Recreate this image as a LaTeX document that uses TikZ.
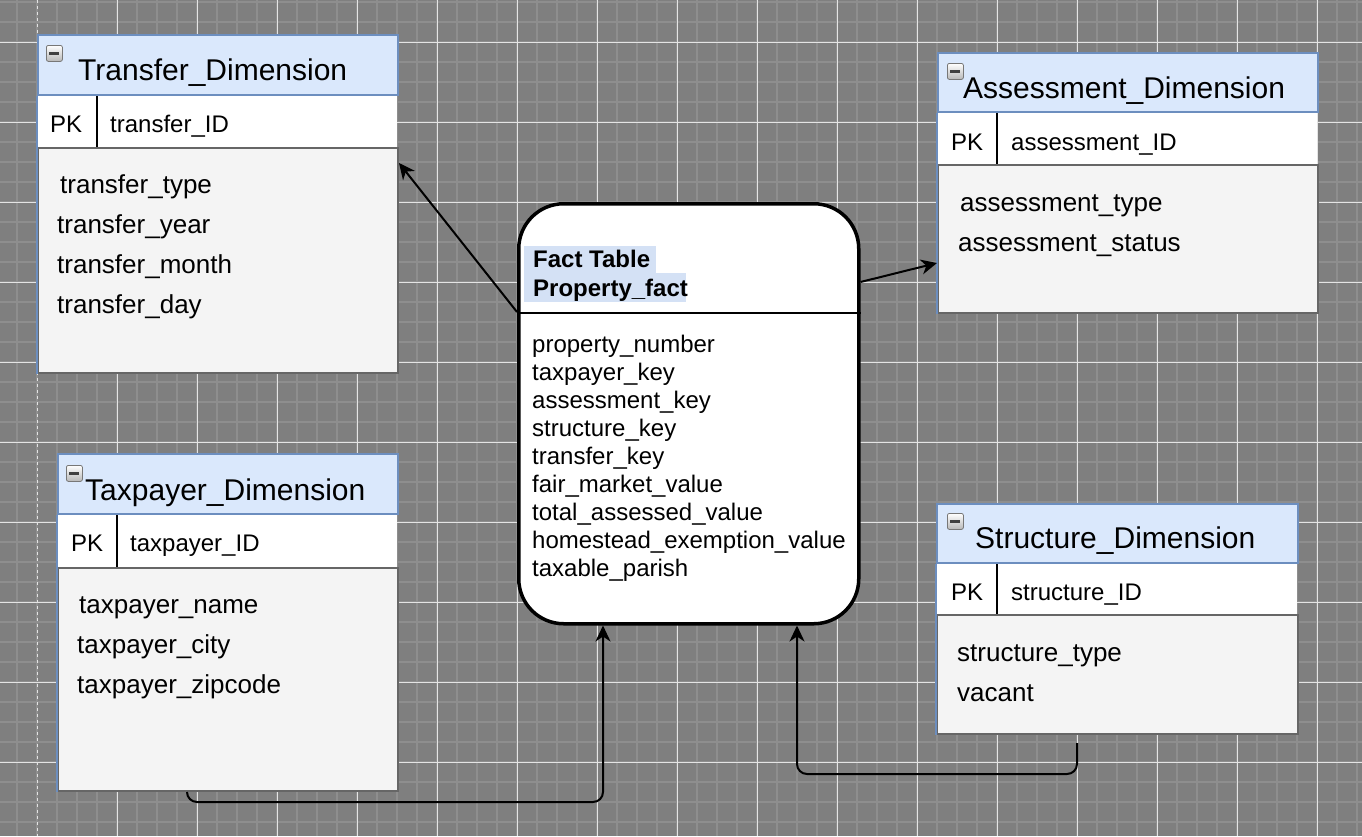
\documentclass[tikz,border=0pt]{standalone}
\usepackage{fontspec}
\setmainfont{Liberation Sans}
\usetikzlibrary{arrows.meta}
\definecolor{bg}{HTML}{7F7F7F}
\definecolor{minorc}{HTML}{8E8E8E}
\definecolor{majorc}{HTML}{E4E4E4}
\definecolor{hdrfill}{HTML}{DAE8FC}
\definecolor{hdrline}{HTML}{6C8EBF}
\definecolor{bodyfill}{HTML}{F4F4F4}
\definecolor{bodyline}{HTML}{666666}
\definecolor{hl}{HTML}{D4E1F5}
\definecolor{iconline}{HTML}{777777}
\definecolor{iconbot}{HTML}{B8B8B8}
\begin{document}
\begin{tikzpicture}[x=1pt,y=-1pt,
  hdr/.style={draw=hdrline, fill=hdrfill, line width=2pt, anchor=north west, inner sep=0pt},
  pkrow/.style={fill=white, anchor=north west, inner sep=0pt},
  bodybox/.style={draw=bodyline, fill=bodyfill, line width=2pt, anchor=north west, inner sep=0pt},
  ttl/.style={anchor=base west, inner sep=0pt, font=\fontsize{30}{36}\selectfont},
  pk/.style={anchor=base west, inner sep=0pt, font=\fontsize{24}{29}\selectfont},
  fld/.style={anchor=base west, inner sep=0pt, font=\fontsize{26}{31}\selectfont},
  ffld/.style={anchor=base west, inner sep=0pt, font=\fontsize{24}{28}\selectfont},
  fttl/.style={anchor=base west, inner sep=0pt, font=\fontsize{24}{29}\selectfont\bfseries},
  hlbox/.style={fill=hl, anchor=north west, inner sep=0pt},
  sepline/.style={draw=black, line width=2pt},
  blueedge/.style={draw=hdrline, line width=2pt},
  conn/.style={draw=black, line width=2pt, -{Stealth[length=16pt,width=15pt,inset=5pt]}},
  minusbox/.style={draw=iconline, line width=0.8pt, top color=white, bottom color=iconbot,
    rounded corners=2pt, minimum width=16pt, minimum height=16pt, inner sep=0pt, anchor=north west,
    path picture={\draw[line width=2.4pt, black!75] ([xshift=-5pt]path picture bounding box.center) -- ([xshift=5pt]path picture bounding box.center);}}
]
% background and grid
\fill[bg] (0,0) rectangle (1362,836);
\useasboundingbox (0,0) rectangle (1362,836);
\foreach \x in {17,37,...,1357} \draw[minorc, line width=1.3pt] (\x,0) -- (\x,836);
\foreach \y in {2,22,...,822} \draw[minorc, line width=1.3pt] (0,\y) -- (1362,\y);
\foreach \x in {117,197,...,1317} \draw[majorc, line width=1pt] (\x,0) -- (\x,836);
\foreach \y in {42,122,...,802} \draw[majorc, line width=1pt] (0,\y) -- (1362,\y);
\draw[majorc, line width=1pt, dash pattern=on 3pt off 3pt] (37,0) -- (37,836);

% ---------- Transfer_Dimension ----------
\node[bodybox, minimum width=360pt, minimum height=225pt] (trB) at (37,147) {};
\node[pkrow, minimum width=360pt, minimum height=53pt] (trP) at (37,94) {};
\node[hdr, minimum width=360pt, minimum height=60pt] (trH) at (37,34) {};
\draw[blueedge] (trH.south west) -- (trB.south west);
\draw[sepline] (trH.south -| 97,0) -- (trB.north -| 97,0);
\node[minusbox] (trM) at (46,45) {};
\node[ttl] (trT) at (78,80) {Transfer\_Dimension};
\node[pk] (trK) at (50,132) {PK};
\node[pk] (trI) at (110,132) {transfer\_ID};
\node[fld] (tr1) at (60,193) {transfer\_type};
\node[fld] (tr2) at (57,233) {transfer\_year};
\node[fld] (tr3) at (57,273) {transfer\_month};
\node[fld] (tr4) at (57,313) {transfer\_day};

% ---------- Assessment_Dimension ----------
\node[bodybox, minimum width=380pt, minimum height=148pt] (asB) at (937,164) {};
\node[pkrow, minimum width=380pt, minimum height=53pt] (asP) at (937,111) {};
\node[hdr, minimum width=380pt, minimum height=59pt] (asH) at (937,52) {};
\draw[blueedge] (asH.south west) -- (asB.south west);
\draw[sepline] (asH.south -| 997,0) -- (asB.north -| 997,0);
\node[minusbox] (asM) at (947,63) {};
\node[ttl] (asT) at (963,98) {Assessment\_Dimension};
\node[pk] (asK) at (951,150) {PK};
\node[pk] (asI) at (1011,150) {assessment\_ID};
\node[fld] (as1) at (960,211) {assessment\_type};
\node[fld] (as2) at (958,251) {assessment\_status};

% ---------- Taxpayer_Dimension ----------
\node[bodybox, minimum width=340pt, minimum height=223pt] (txB) at (57,567) {};
\node[pkrow, minimum width=340pt, minimum height=54pt] (txP) at (57,513) {};
\node[hdr, minimum width=340pt, minimum height=60pt] (txH) at (57,453) {};
\draw[blueedge] (txH.south west) -- (txB.south west);
\draw[sepline] (txH.south -| 117,0) -- (txB.north -| 117,0);
\node[minusbox] (txM) at (66,465) {};
\node[ttl] (txT) at (85,500) {Taxpayer\_Dimension};
\node[pk] (txK) at (71,551) {PK};
\node[pk] (txI) at (130,551) {taxpayer\_ID};
\node[fld] (tx1) at (79,613) {taxpayer\_name};
\node[fld] (tx2) at (77,653) {taxpayer\_city};
\node[fld] (tx3) at (77,693) {taxpayer\_zipcode};

% ---------- Structure_Dimension ----------
\node[bodybox, minimum width=361pt, minimum height=119pt] (stB) at (936,614) {};
\node[pkrow, minimum width=361pt, minimum height=52pt] (stP) at (936,562) {};
\node[hdr, minimum width=361pt, minimum height=59pt] (stH) at (936,503) {};
\draw[blueedge] (stH.south west) -- (stB.south west);
\draw[sepline] (stH.south -| 997,0) -- (stB.north -| 997,0);
\node[minusbox] (stM) at (947,513) {};
\node[ttl] (stT) at (975,548) {Structure\_Dimension};
\node[pk] (stK) at (951,600) {PK};
\node[pk] (stI) at (1011,600) {structure\_ID};
\node[fld] (st1) at (957,661) {structure\_type};
\node[fld] (st2) at (957,701) {vacant};

% ---------- Fact table ----------
\node[draw=black, fill=white, line width=3.5pt, rounded corners=45pt, minimum width=340pt,
      minimum height=420pt, anchor=north west, inner sep=0pt] (fact) at (517,202) {};
\draw[line width=2pt] (fact.west |- 0,313) -- (fact.east |- 0,313);
\node[hlbox, minimum width=132pt, minimum height=27pt] (hl1) at (524,246) {};
\node[hlbox, minimum width=162pt, minimum height=29pt] (hl2) at (524,273) {};
\node[fttl] (ft1) at (533,267) {Fact Table};
\node[fttl] (ft2) at (533,296) {Property\_fact};
\node[ffld] (f1) at (532,352) {property\_number};
\node[ffld] (f2) at (532,380) {taxpayer\_key};
\node[ffld] (f3) at (532,408) {assessment\_key};
\node[ffld] (f4) at (532,436) {structure\_key};
\node[ffld] (f5) at (532,464) {transfer\_key};
\node[ffld] (f6) at (532,492) {fair\_market\_value};
\node[ffld] (f7) at (532,520) {total\_assessed\_value};
\node[ffld] (f8) at (532,548) {homestead\_exemption\_value};
\node[ffld] (f9) at (532,576) {taxable\_parish};

% ---------- Connectors ----------
\draw[conn] (fact.west |- 0,312) -- (trB.east |- 0,163);
\draw[conn] (fact.east |- 0,282) -- (asB.west |- 0,263);
\draw[conn, rounded corners=10pt] (txB.south -| 187,0) -- (187,802) -- (603,802) -- (fact.south -| 603,0);
\coordinate (stOut) at (1077,743);
\draw[conn, rounded corners=10pt] (stOut) -- (1077,774) -- (797,774) -- (fact.south -| 797,0);
\end{tikzpicture}
\end{document}
